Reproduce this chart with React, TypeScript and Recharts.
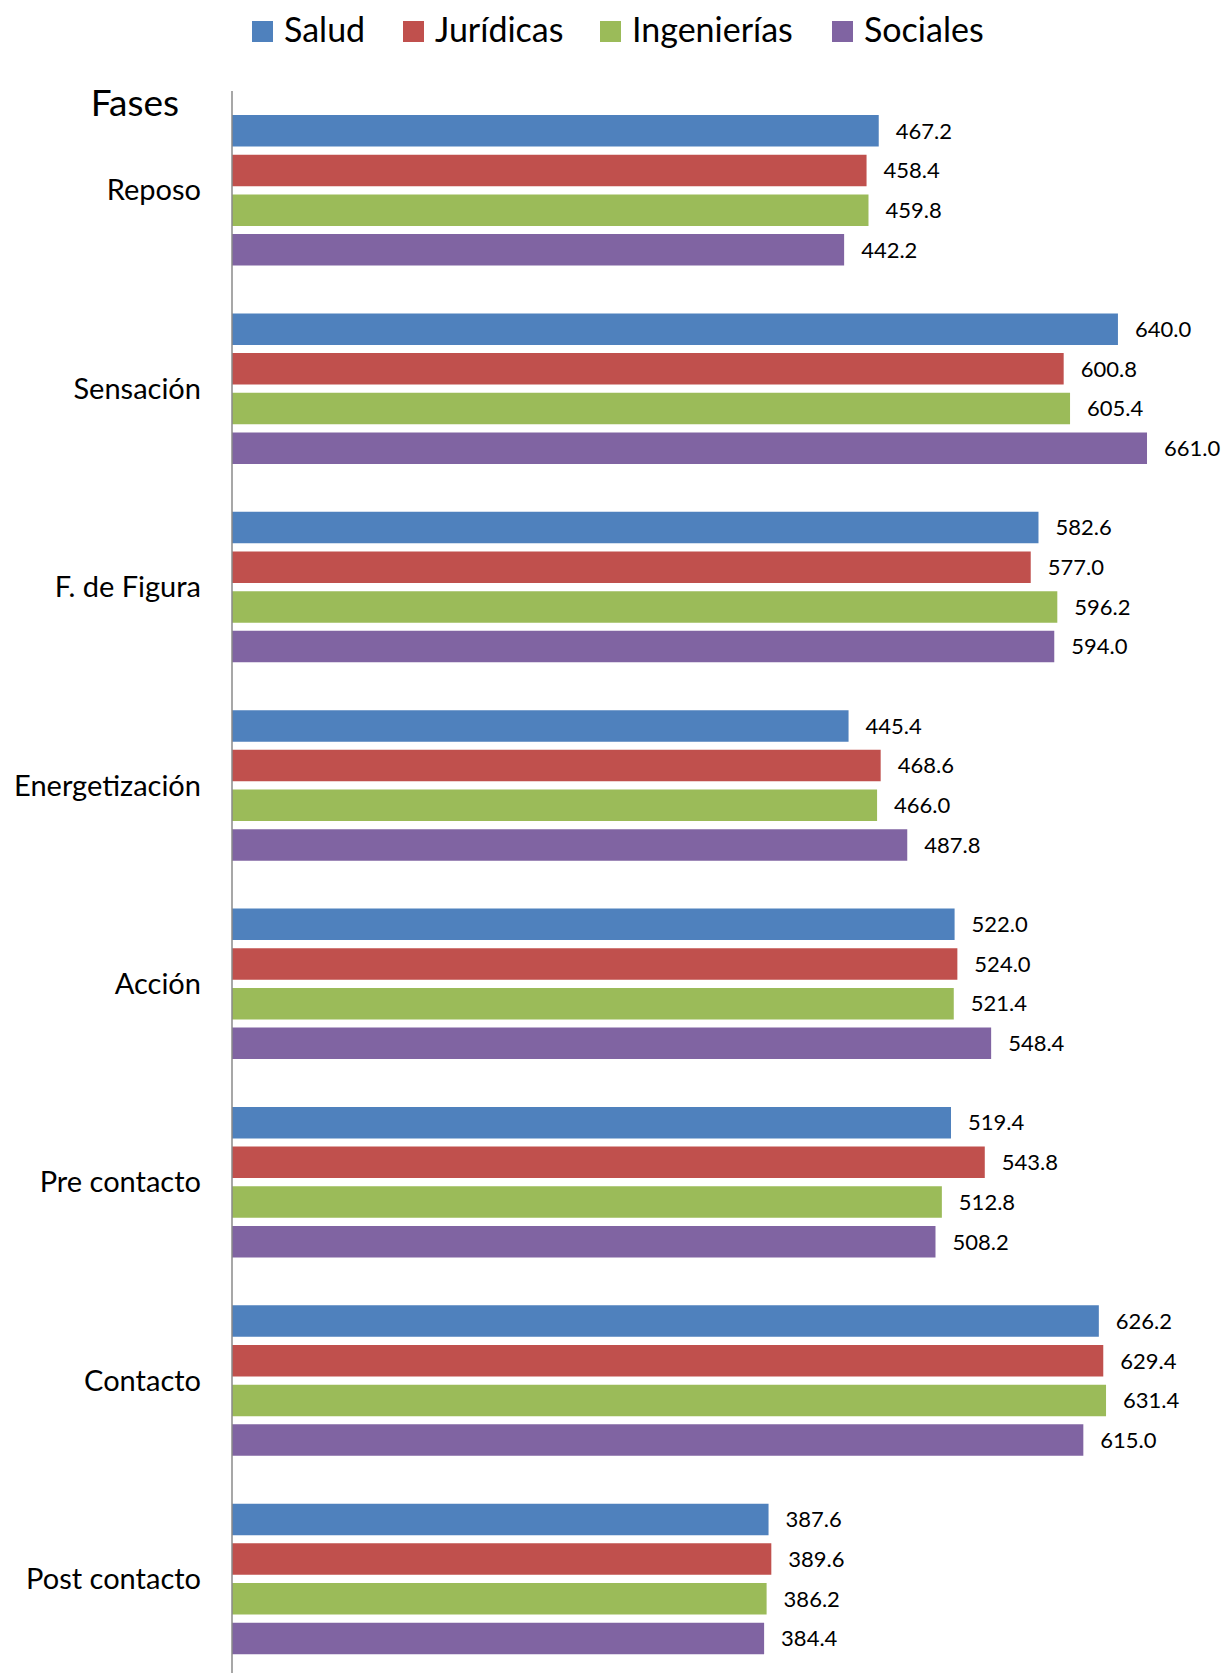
import React from "react";
import {
  BarChart,
  Bar,
  XAxis,
  YAxis,
  Legend,
  LabelList,
  Label,
} from "recharts";

const fases = [
  "Reposo",
  "Sensación",
  "F. de Figura",
  "Energetización",
  "Acción",
  "Pre contacto",
  "Contacto",
  "Post contacto",
];
const salud = [467.2, 640.0, 582.6, 445.4, 522.0, 519.4, 626.2, 387.6];
const juridicas = [458.4, 600.8, 577.0, 468.6, 524.0, 543.8, 629.4, 389.6];
const ingenierias = [459.8, 605.4, 596.2, 466.0, 521.4, 512.8, 631.4, 386.2];
const sociales = [442.2, 661.0, 594.0, 487.8, 548.4, 508.2, 615.0, 384.4];

const series = [
  { key: "salud", name: "Salud", color: "#4F81BD" },
  { key: "juridicas", name: "Jurídicas", color: "#C0504D" },
  { key: "ingenierias", name: "Ingenierías", color: "#9BBB59" },
  { key: "sociales", name: "Sociales", color: "#8064A2" },
];

const data = fases.map((fase, i) => ({
  fase,
  salud: salud[i],
  juridicas: juridicas[i],
  ingenierias: ingenierias[i],
  sociales: sociales[i],
}));

const FONT = "Lato, 'Open Sans', sans-serif";
// legend item widths so the squares land where the original puts them
const legendWidths = [151, 197, 232, 160];

function LegendRow() {
  return (
    <div style={{ display: "flex", paddingLeft: 252, fontFamily: FONT }}>
      {series.map((s, i) => (
        <div
          key={s.key}
          style={{ display: "flex", alignItems: "center", width: legendWidths[i] }}
        >
          <span
            style={{
              display: "inline-block",
              width: 21,
              height: 21,
              background: s.color,
              marginRight: 11,
              marginTop: 6,
            }}
          />
          <span style={{ fontSize: 34, lineHeight: "34px", color: "#000" }}>
            {s.name}
          </span>
        </div>
      ))}
    </div>
  );
}

export default function App() {
  return (
    <div
      style={{
        position: "absolute",
        left: 0,
        top: 0,
        width: 1226,
        height: 1673,
        overflow: "hidden",
        background: "#fff",
      }}
    >
      <BarChart
        width={1226}
        height={1700}
        layout="vertical"
        data={data}
        margin={{ top: 91, right: 25, bottom: 22, left: 0 }}
        barSize={31.5}
        barGap={8.2}
      >
        <XAxis type="number" domain={[0, 700]} hide />
        <YAxis
          type="category"
          dataKey="fase"
          width={232}
          axisLine={{ stroke: "#8a8a8a", strokeWidth: 1.5 }}
          tickLine={false}
          tickSize={0}
          tickMargin={31}
          tick={{ fill: "#000", fontSize: 29, fontFamily: FONT }}
        >
          <Label
            content={({ viewBox }: any) => (
              <text
                x={viewBox.x + viewBox.width - 53}
                y={viewBox.y + 25}
                textAnchor="end"
                fontSize={37}
                fontFamily={FONT}
                fill="#000"
              >
                Fases
              </text>
            )}
          />
        </YAxis>
        <Legend
          layout="horizontal"
          verticalAlign="middle"
          align="center"
          wrapperStyle={{ top: 11.5, left: 0, width: 1226 }}
          content={() => <LegendRow />}
        />
        {series.map((s) => (
          <Bar
            key={s.key}
            dataKey={s.key}
            name={s.name}
            fill={s.color}
            isAnimationActive={false}
          >
            <LabelList
              dataKey={s.key}
              position="right"
              offset={17}
              fill="#000"
              fontSize={22}
              fontFamily={FONT}
              formatter={(v: any) => Number(v).toFixed(1)}
            />
          </Bar>
        ))}
      </BarChart>
    </div>
  );
}
